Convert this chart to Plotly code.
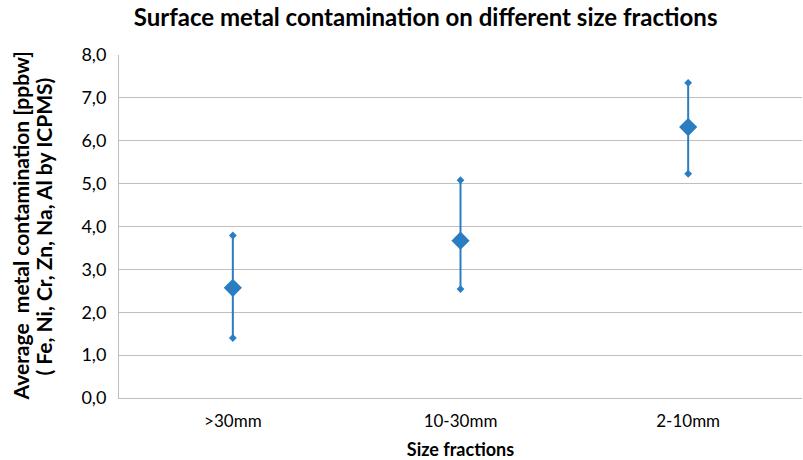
import plotly.graph_objects as go

# Size fractions and measured contamination (ppbw)
categories = [">30mm", "10-30mm", "2-10mm"]
mean_values = [2.57, 3.67, 6.32]
upper_values = [3.79, 5.08, 7.35]
lower_values = [1.40, 2.54, 5.23]

y_title_lines = [
    "Average  metal contamination [ppbw]",
    "( Fe, Ni, Cr, Zn, Na, Al by ICPMS)",
]

BLUE = "#2A7DC1"
FONT = "Lato, 'Open Sans', sans-serif"

err_plus = [u - m for u, m in zip(upper_values, mean_values)]
err_minus = [m - l for m, l in zip(mean_values, lower_values)]

fig = go.Figure()

# Mean with whiskers
fig.add_trace(go.Scatter(
    x=categories, y=mean_values, mode="markers",
    marker=dict(symbol="diamond", size=14, color=BLUE),
    error_y=dict(type="data", symmetric=False, array=err_plus,
                 arrayminus=err_minus, color=BLUE, thickness=2, width=0),
    showlegend=False,
))

# Small diamond caps at the whisker ends
for ends in (upper_values, lower_values):
    fig.add_trace(go.Scatter(
        x=categories, y=ends, mode="markers",
        marker=dict(symbol="diamond", size=6, color=BLUE),
        showlegend=False,
    ))

# Two-line vertical axis title
for i, line in enumerate(y_title_lines):
    fig.add_annotation(
        text=line, textangle=-90,
        xref="paper", yref="paper", x=0, y=0.5,
        xanchor="center", yanchor="middle",
        xshift=-99 + 23 * i, showarrow=False,
        font=dict(size=21, family=FONT, color="#000000", weight=700),
    )

fig.update_layout(
    width=803, height=460,
    margin=dict(l=119, r=1, t=55, b=62),
    paper_bgcolor="white", plot_bgcolor="white",
    separators=",.",
    font=dict(family=FONT, color="#000000"),
    title=dict(
        text="Surface metal contamination on different size fractions",
        x=0.53, xanchor="center", y=0.962, yanchor="middle",
        font=dict(size=24, family=FONT, weight=700),
    ),
    xaxis=dict(
        type="category", range=[-0.5, 2.5], showgrid=False, showline=True,
        linecolor="#BFBFBF", linewidth=1, ticks="",
        tickfont=dict(size=17), ticklabelstandoff=8,
        title=dict(text="Size fractions", font=dict(size=18, weight=700), standoff=12),
    ),
    yaxis=dict(
        range=[0, 8], dtick=1, tickformat=".1f",
        showgrid=True, gridcolor="#BFBFBF", gridwidth=1,
        showline=True, linecolor="#BFBFBF", linewidth=1,
        zeroline=False, ticks="", tickfont=dict(size=18),
        ticklabelstandoff=8,
    ),
)

fig.write_html("out.html")
